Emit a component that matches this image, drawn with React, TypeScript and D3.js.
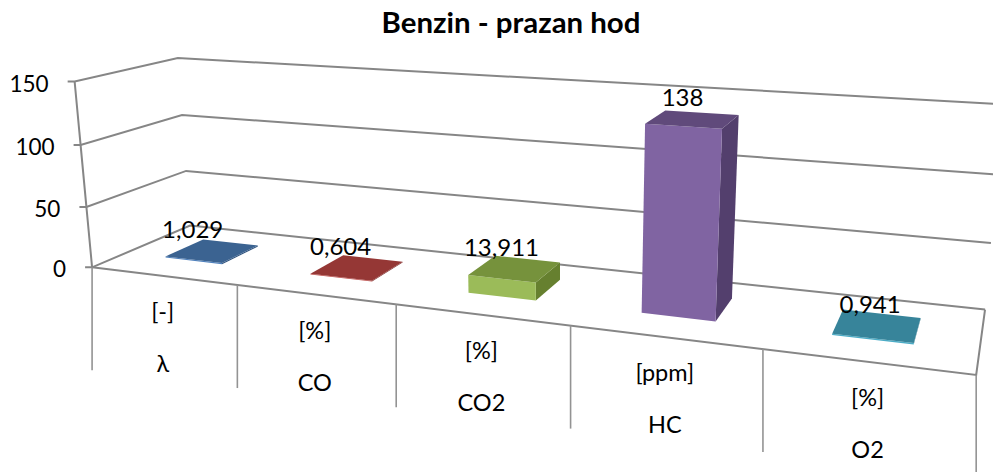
import React from "react";
import * as d3 from "d3";

const title = "Benzin - prazan hod";
const categories = ["λ", "CO", "CO2", "HC", "O2"];
const units = ["[-]", "[%]", "[%]", "[ppm]", "[%]"];
const values = [1.029, 0.604, 13.911, 138, 0.941];
const valueLabels = ["1,029", "0,604", "13,911", "138", "0,941"];
const yTicks = [0, 50, 100, 150];
const faceFront = ["#4F81BD", "#C0504D", "#9BBB59", "#8064A2", "#4BACC6"];
const faceTop = ["#3B6391", "#953735", "#76923C", "#604A7B", "#37849A"];
const faceSide = ["#345780", "#7F2F2D", "#66802F", "#533F6D", "#2F7184"];

// Camera calibration: [category pos, depth, value] -> [screen x, y]
const calibration: number[][] = [
  [0, 0, 0, 92, 267], [1, 0, 0, 237, 285], [2, 0, 0, 396, 305], [3, 0, 0, 571, 326],
  [4, 0, 0, 763, 349], [5, 0, 0, 976, 375], [0, 1, 0, 190, 226], [5, 1, 0, 985, 309],
  [0, 0, 50, 87, 206], [0, 0, 100, 81, 145], [0, 0, 150, 74, 82],
  [0, 1, 50, 186, 171], [0, 1, 100, 182, 115], [0, 1, 150, 178, 58], [5, 1, 50, 991, 243],
];

const vNorm = d3.scaleLinear().domain([0, 150]).range([0, 1]);

function solve(A: number[][], b: number[]) {
  const n = b.length;
  const M = A.map((r, i) => [...r, b[i]]);
  for (let c = 0; c < n; c++) {
    let p = c;
    for (let r = c + 1; r < n; r++) if (Math.abs(M[r][c]) > Math.abs(M[p][c])) p = r;
    [M[c], M[p]] = [M[p], M[c]];
    for (let r = 0; r < n; r++) {
      if (r === c) continue;
      const f = M[r][c] / M[c][c];
      for (let k = c; k <= n; k++) M[r][k] -= f * M[c][k];
    }
  }
  return M.map((r, i) => r[n] / r[i]);
}

function fitCamera() {
  const rows: number[][] = [];
  const rhs: number[] = [];
  calibration.forEach(([u, w, val, x, y]) => {
    const v = vNorm(val);
    rows.push([u, w, v, 1, 0, 0, 0, 0, -x * u, -x * w, -x * v]);
    rhs.push(x);
    rows.push([0, 0, 0, 0, u, w, v, 1, -y * u, -y * w, -y * v]);
    rhs.push(y);
  });
  const n = 11;
  const AtA = d3.range(n).map((i) => d3.range(n).map((j) => d3.sum(rows, (r) => r[i] * r[j])));
  const Atb = d3.range(n).map((i) => d3.sum(rows, (r, k) => r[i] * rhs[k]));
  return solve(AtA, Atb);
}
const P = fitCamera();

function project(u: number, w: number, val: number): [number, number] {
  const v = vNorm(val);
  const d = P[8] * u + P[9] * w + P[10] * v + 1;
  return [
    (P[0] * u + P[1] * w + P[2] * v + P[3]) / d,
    (P[4] * u + P[5] * w + P[6] * v + P[7]) / d,
  ];
}

const line = d3.line<[number, number]>();
const GRID = "#868686";
const FONT = "Lato, Carlito, Calibri, sans-serif";
const BAR_HALF = 0.2;
const BAR_SHIFT = -0.01;
const DEPTH_FRONT = 0.32;
const DEPTH_BACK = 0.72;

export default function App() {
  const poly = (pts: [number, number][]) => line(pts) + "Z";
  return (
    <svg width={993} height={472} style={{ position: "fixed", left: 0, top: 0, display: "block", background: "#fff" }} fontFamily={FONT}>
      <text x={511} y={33} textAnchor="middle" fontSize={29.4} fontWeight={700} fill="#000">{title}</text>

      {yTicks.map((t) => {
        const a = project(0, 0, t);
        return (
          <g key={t}>
            <path d={line([[a[0] - 7, a[1]], a, project(0, 1, t), project(5, 1, t)]) as string} fill="none" stroke={GRID} strokeWidth={2} />
            <text x={a[0] - 26} y={a[1] + 10} textAnchor="end" fontSize={22.5} fill="#000">{t}</text>
          </g>
        );
      })}
      <path d={line([project(0, 0, 150), project(0, 0, 0)]) as string} fill="none" stroke={GRID} strokeWidth={2} />
      <path d={line([project(0, 0, 0), project(5, 0, 0), project(5, 1, 0)]) as string} fill="none" stroke={GRID} strokeWidth={2} />
      {d3.range(6).map((i) => {
        const a = project(i, 0, 0);
        return <path key={i} d={line([a, [a[0], a[1] + 103]]) as string} stroke="#939393" strokeWidth={1.6} fill="none" />;
      })}

      {categories.map((c, i) => {
        const u0 = i + 0.5 + BAR_SHIFT - BAR_HALF, u1 = i + 0.5 + BAR_SHIFT + BAR_HALF;
        const v = values[i];
        const fb = project(u0, DEPTH_FRONT, 0), fbr = project(u1, DEPTH_FRONT, 0);
        const ft = project(u0, DEPTH_FRONT, v), ftr = project(u1, DEPTH_FRONT, v);
        const bt = project(u0, DEPTH_BACK, v), btr = project(u1, DEPTH_BACK, v), bbr = project(u1, DEPTH_BACK, 0);
        return (
          <g key={c}>
            <path d={poly([fbr, bbr, btr, ftr])} fill={faceSide[i]} />
            <path d={poly([fb, fbr, ftr, ft])} fill={faceFront[i]} />
            <path d={poly([ft, ftr, btr, bt])} fill={faceTop[i]} />
          </g>
        );
      })}

      {categories.map((c, i) => {
        const a = project(i, 0, 0), b = project(i + 1, 0, 0);
        const x = (a[0] + b[0]) / 2 - 2;
        const y = (a[1] + b[1]) / 2;
        const top = project(i + 0.5, (DEPTH_FRONT + DEPTH_BACK) / 2, values[i]);
        return (
          <g key={c} fill="#000" textAnchor="middle" fontSize={23.5}>
            <text x={x} y={y + 44}>{units[i]}</text>
            <text x={x} y={y + 96}>{c}</text>
            <text x={top[0] - 21 + 3 * i} y={top[1] - 13} fontSize={24}>{valueLabels[i]}</text>
          </g>
        );
      })}
    </svg>
  );
}
